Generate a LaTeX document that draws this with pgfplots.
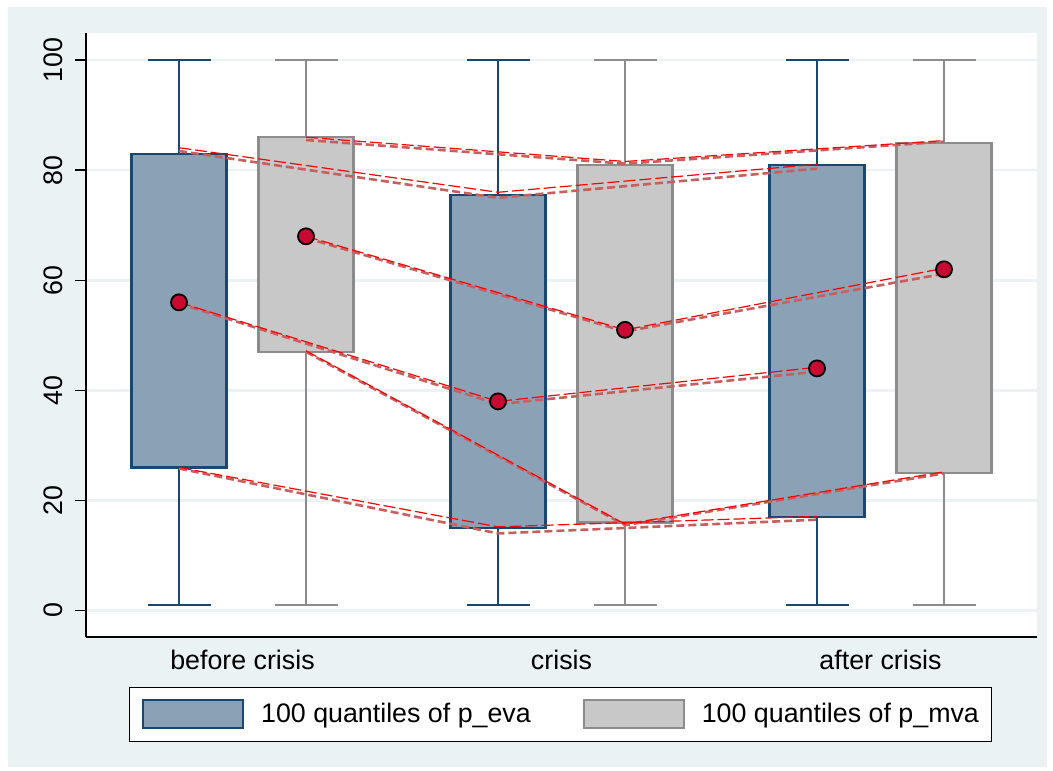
\documentclass[border=0pt]{standalone}
\usepackage{pgfplots}
\pgfplotsset{compat=1.18}
\usepackage{fontspec}
\setmainfont{Liberation Sans}
\definecolor{bgc}{RGB}{234,242,243}
\definecolor{evafill}{RGB}{139,161,182}
\definecolor{evaline}{RGB}{26,71,111}
\definecolor{mvafill}{RGB}{200,200,200}
\definecolor{mvaline}{RGB}{140,140,140}
\definecolor{shad}{RGB}{200,95,95}
\definecolor{dotred}{RGB}{200,10,50}
\newcommand\lblfont{\fontsize{13.4}{15}\selectfont}
\begin{document}
\begin{tikzpicture}
\useasboundingbox (0pt,0pt) rectangle (526.5pt,-385pt);
\fill[white] (0pt,0pt) rectangle (526.5pt,-385pt);
\fill[bgc] (4pt,-3.5pt) rectangle (523.5pt,-383.5pt);
\begin{axis}[
  at={(43pt,-318.5pt)}, anchor=south west,
  scale only axis, width=475.5pt, height=302pt,
  xmin=86, xmax=1037, ymin=-4.82, ymax=104.95,
  axis background/.style={fill=white},
  axis x line*=bottom, axis y line*=left,
  axis line style={line width=0.8pt, black, -},
  ytick={0,20,40,60,80,100},
  yticklabels={0,20,40,60,80,100},
  xtick={242.5,561.5,880.5},
  xticklabels={before crisis,crisis,after crisis},
  x tick style={draw=none},
  y tick style={line width=0.8pt, black},
  tick align=outside,
  major tick length=5.5pt,
  ymajorgrids,
  grid style={bgc, line width=1.2pt},
  tick label style={font=\lblfont},
  yticklabel style={xshift=-6pt, rotate=90, anchor=south, inner sep=0pt},
  xticklabel style={anchor=base, inner sep=0pt, yshift=-10.5pt},
  unbounded coords=jump,
  box/.style={line width=1.1pt, solid, forget plot},
  legend columns=2,
  legend style={at={(0.499,-0.1275)}, anchor=center, draw=black, line width=0.5pt, fill=white,
    font=\lblfont, inner xsep=6.5pt, inner ysep=6pt,
    nodes={inner sep=0pt},
    /tikz/every odd column/.append style={column sep=8.5pt},
    /tikz/every even column/.append style={column sep=26pt}},
]
\addlegendimage{legend image code/.code={\draw[draw=evaline, fill=evafill, line width=1pt] (0pt,-7pt) rectangle (50pt,7pt);}}
\addlegendentry{100 quantiles of p\_eva}
\addlegendimage{legend image code/.code={\draw[draw=mvaline, fill=mvafill, line width=1pt] (0pt,-7pt) rectangle (50pt,7pt);}}
\addlegendentry{100 quantiles of p\_mva}

% eva boxes (x centre, quartiles 26/83, 15/75.5, 17/81; whiskers 1 and 100)
\addplot[box, draw=evaline, fill=evafill] coordinates {(131.5,26) (226.5,26) (226.5,83) (131.5,83)} -- cycle;
\addplot[box, draw=evaline] coordinates {(179,26) (179,1) (179,nan) (147.5,1) (210.5,1) (210.5,nan) (179,83) (179,100) (179,nan) (147.5,100) (210.5,100)};
\addplot[box, draw=evaline, fill=evafill] coordinates {(450.5,15) (545.5,15) (545.5,75.5) (450.5,75.5)} -- cycle;
\addplot[box, draw=evaline] coordinates {(498,15) (498,1) (498,nan) (466.5,1) (529.5,1) (529.5,nan) (498,75.5) (498,100) (498,nan) (466.5,100) (529.5,100)};
\addplot[box, draw=evaline, fill=evafill] coordinates {(769.5,17) (864.5,17) (864.5,81) (769.5,81)} -- cycle;
\addplot[box, draw=evaline] coordinates {(817,17) (817,1) (817,nan) (785.5,1) (848.5,1) (848.5,nan) (817,81) (817,100) (817,nan) (785.5,100) (848.5,100)};
% mva boxes (quartiles 47/86, 16/81, 25/85)
\addplot[box, draw=mvaline, fill=mvafill] coordinates {(258.5,47) (353.5,47) (353.5,86) (258.5,86)} -- cycle;
\addplot[box, draw=mvaline] coordinates {(306,47) (306,1) (306,nan) (274.5,1) (337.5,1) (337.5,nan) (306,86) (306,100) (306,nan) (274.5,100) (337.5,100)};
\addplot[box, draw=mvaline, fill=mvafill] coordinates {(577.5,16) (672.5,16) (672.5,81) (577.5,81)} -- cycle;
\addplot[box, draw=mvaline] coordinates {(625,16) (625,1) (625,nan) (593.5,1) (656.5,1) (656.5,nan) (625,81) (625,100) (625,nan) (593.5,100) (656.5,100)};
\addplot[box, draw=mvaline, fill=mvafill] coordinates {(896.5,25) (991.5,25) (991.5,85) (896.5,85)} -- cycle;
\addplot[box, draw=mvaline] coordinates {(944,25) (944,1) (944,nan) (912.5,1) (975.5,1) (975.5,nan) (944,85) (944,100) (944,nan) (912.5,100) (975.5,100)};

% shadow dashed lines
\addplot[shad, line width=1.3pt, dash pattern=on 4pt off 2pt, forget plot] coordinates {(179,83.5) (498,75) (817,80.3)};
\addplot[shad, line width=1.3pt, dash pattern=on 4pt off 2pt, forget plot] coordinates {(306,85.5) (625,81.2) (944,85.2)};
\addplot[shad, line width=1.3pt, dash pattern=on 4pt off 2pt, forget plot] coordinates {(179,55.8) (498,37.5) (817,43.4)};
\addplot[shad, line width=1.3pt, dash pattern=on 4pt off 2pt, forget plot] coordinates {(306,67.7) (625,50.7) (944,61.2)};
\addplot[shad, line width=1.3pt, dash pattern=on 4pt off 2pt, forget plot] coordinates {(179,25.8) (498,14.0) (817,16.5)};
\addplot[shad, line width=1.3pt, dash pattern=on 4pt off 2pt, forget plot] coordinates {(306,47) (625,15.5) (944,24.9)};
% bright dashed lines
\addplot[red, line width=0.6pt, dash pattern=on 6pt off 2pt, forget plot] coordinates {(179,84.1) (498,76) (817,81.1)};
\addplot[red, line width=0.6pt, dash pattern=on 6pt off 2pt, forget plot] coordinates {(306,86) (625,81.6) (944,85.4)};
\addplot[red, line width=0.6pt, dash pattern=on 6pt off 2pt, forget plot] coordinates {(179,56) (498,38) (817,44.2)};
\addplot[red, line width=0.6pt, dash pattern=on 6pt off 2pt, forget plot] coordinates {(306,68) (625,51) (944,62.2)};
\addplot[red, line width=0.6pt, dash pattern=on 6pt off 2pt, forget plot] coordinates {(179,26) (498,15.2) (817,17.1)};
\addplot[red, line width=0.6pt, dash pattern=on 6pt off 2pt, forget plot] coordinates {(306,47.2) (625,15.7) (944,25.2)};

% medians
\addplot[only marks, mark=*, mark size=4pt, mark options={fill=dotred, draw=black, line width=0.9pt}, forget plot] coordinates {(179,56) (306,68) (498,38) (625,51) (817,44) (944,62)};
\end{axis}
\end{tikzpicture}
\end{document}
